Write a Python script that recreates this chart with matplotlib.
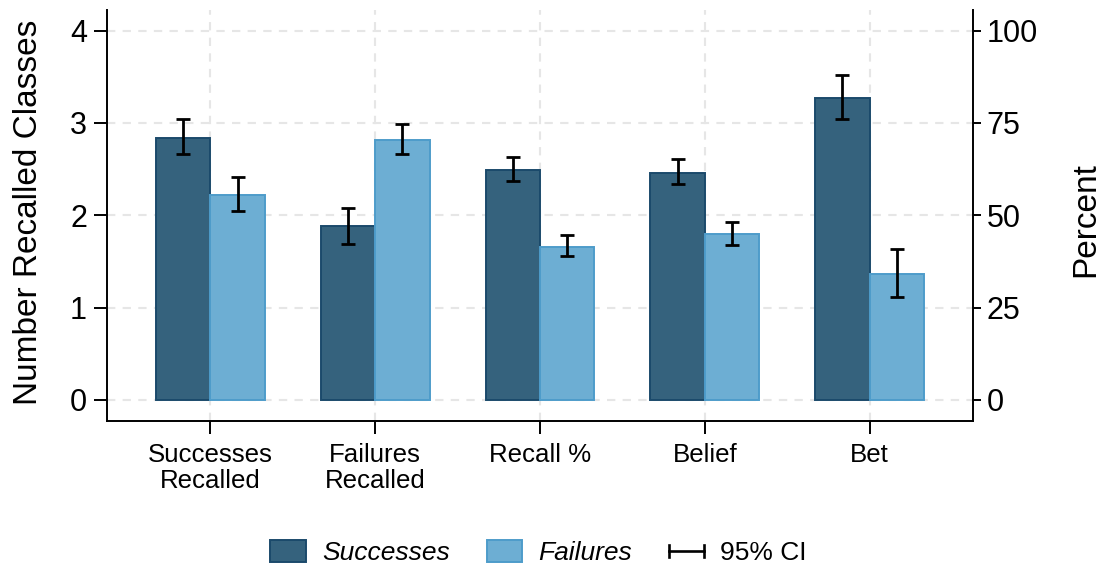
import matplotlib
matplotlib.use("Agg")
import matplotlib.pyplot as plt
import numpy as np
from matplotlib.patches import Patch
from matplotlib.lines import Line2D
from matplotlib.legend_handler import HandlerBase

plt.rcParams['font.family'] = ['Liberation Sans', 'DejaVu Sans']

# Categories along the x axis
categories = ['Successes\nRecalled', 'Failures\nRecalled', 'Recall %', 'Belief', 'Bet']

# Count outcomes (left axis): means and 95% CI bounds
count_succ = [2.84, 1.88]
count_succ_lo = [2.66, 1.69]
count_succ_hi = [3.04, 2.08]
count_fail = [2.22, 2.82]
count_fail_lo = [2.05, 2.66]
count_fail_hi = [2.41, 2.99]

# Percent outcomes (right axis): means and 95% CI bounds
pct_succ = [62.2, 61.5, 81.7]
pct_succ_lo = [59.4, 58.5, 76.1]
pct_succ_hi = [65.7, 65.1, 87.9]
pct_fail = [41.5, 44.9, 34.1]
pct_fail_lo = [39.0, 42.0, 27.9]
pct_fail_hi = [44.6, 48.3, 41.0]

dark_fill, dark_edge = '#35627d', '#1b4a6b'
light_fill, light_edge = '#6daed3', '#4e9cca'
grid_col = '#e6e6e6'

W, H = 1107, 574
fig = plt.figure(figsize=(W / 100, H / 100), dpi=100)
ax = fig.add_axes([107 / W, 1 - 421.3 / H, (973 - 107) / W, (421.3 - 10) / H])
ax2 = ax.twinx()

bw = 0.33
x = np.arange(len(categories))
xc = x[:2]
xp = x[2:]

bar_kw = dict(width=bw, align='edge', linewidth=1.4, zorder=3)
err_kw = dict(fmt='none', ecolor='black', elinewidth=2.0, capsize=4.8, capthick=2.0, zorder=4)

def err(v, lo, hi):
    v, lo, hi = map(np.asarray, (v, lo, hi))
    return [v - lo, hi - v]

# Count panels on the left axis
ax.bar(xc - bw, count_succ, color=dark_fill, edgecolor=dark_edge, **bar_kw)
ax.bar(xc, count_fail, color=light_fill, edgecolor=light_edge, **bar_kw)
ax.errorbar(xc - bw / 2, count_succ, yerr=err(count_succ, count_succ_lo, count_succ_hi), **err_kw)
ax.errorbar(xc + bw / 2, count_fail, yerr=err(count_fail, count_fail_lo, count_fail_hi), **err_kw)

# Percent panels on the right axis
ax2.bar(xp - bw, pct_succ, color=dark_fill, edgecolor=dark_edge, **bar_kw)
ax2.bar(xp, pct_fail, color=light_fill, edgecolor=light_edge, **bar_kw)
ax2.errorbar(xp - bw / 2, pct_succ, yerr=err(pct_succ, pct_succ_lo, pct_succ_hi), **err_kw)
ax2.errorbar(xp + bw / 2, pct_fail, yerr=err(pct_fail, pct_fail_lo, pct_fail_hi), **err_kw)

ax.set_xlim(-0.627, 4.627)
ylo, yhi = -0.2306, 4.222
ax.set_ylim(ylo, yhi)
ax2.set_ylim(ylo * 25, yhi * 25)

ax.set_yticks([0, 1, 2, 3, 4])
ax2.set_yticks([0, 25, 50, 75, 100])
ax.set_xticks(x)
ax.set_xticklabels(categories, fontsize=18.6, linespacing=1.12)

ax.set_axisbelow(True)
ax.grid(True, color=grid_col, linestyle=(0, (4, 3.5)), linewidth=1.5, zorder=0)

for a in (ax, ax2):
    a.spines['top'].set_visible(False)
    for s in a.spines.values():
        s.set_linewidth(1.4)
ax.spines['right'].set_visible(False)
ax2.spines['left'].set_visible(False)
ax2.spines['bottom'].set_visible(False)

ax.tick_params(axis='y', labelsize=22, length=9.4, width=1.4, pad=5)
ax.tick_params(axis='x', length=9.4, width=1.4, pad=6)
ax2.tick_params(axis='y', labelsize=22, length=5.8, width=1.4, pad=4)

ax.set_ylabel('Number Recalled Classes', fontsize=24)
ax.yaxis.set_label_coords(-0.073, 0.508)
ax2.set_ylabel('Percent', fontsize=24)
ax2.yaxis.set_label_coords(1.112, 0.49)


class CIHandler(HandlerBase):
    def create_artists(self, legend, orig_handle, xdescent, ydescent,
                       width, height, fontsize, trans):
        y = height / 2 - ydescent
        x0, x1 = -xdescent, width - xdescent
        cap = height * 0.28
        arts = [
            Line2D([x0, x1], [y, y], color='black', lw=1.9),
            Line2D([x0, x0], [y - cap, y + cap], color='black', lw=1.9),
            Line2D([x1, x1], [y - cap, y + cap], color='black', lw=1.9),
        ]
        for a in arts:
            a.set_transform(trans)
        return arts


ci_handle = Line2D([], [])
handles = [Patch(facecolor=dark_fill, edgecolor=dark_edge, linewidth=1.4),
           Patch(facecolor=light_fill, edgecolor=light_edge, linewidth=1.4),
           ci_handle]
labels = ['Successes', 'Failures', '95% CI']
leg = fig.legend(handles, labels, loc='center', bbox_to_anchor=(0.4865, 0.037),
                 ncol=3, frameon=False, fontsize=19, handlelength=1.35,
                 handleheight=0.9, handletextpad=0.6, columnspacing=1.4,
                 handler_map={ci_handle: CIHandler()})
for t in leg.get_texts()[:2]:
    t.set_style('italic')

fig.savefig('out.png', dpi=100)
